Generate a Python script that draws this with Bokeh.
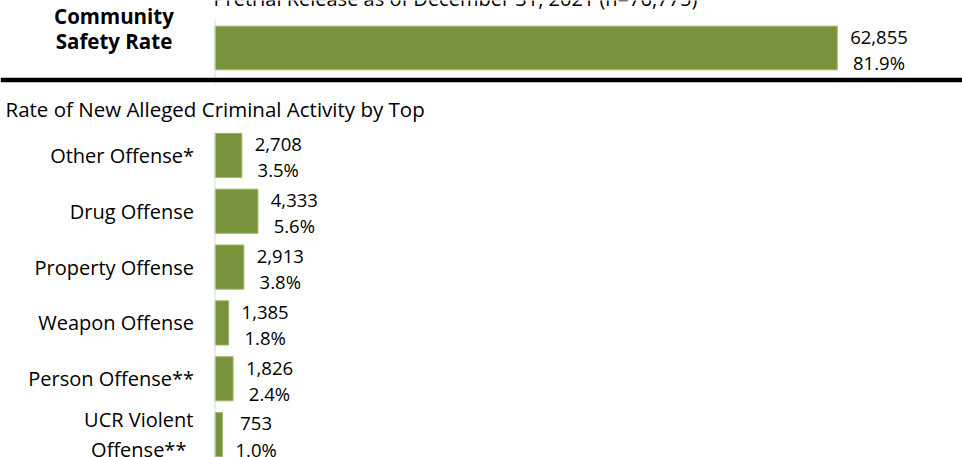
from bokeh.plotting import figure
from bokeh.models import Range1d, FactorRange, Span, ColumnDataSource
from bokeh.layouts import column
from bokeh.embed import file_html
from bokeh.resources import INLINE
from bokeh.core.properties import value

# ---------------- data ----------------
subtitle = "Pretrial Release as of December 31, 2021 (n=76,775)"
top_label_lines = ["Community", "Safety Rate"]
top_category = ["Community Safety Rate"]
top_counts = [62855]
top_pcts = [81.9]

section_title = "Rate of New Alleged Criminal Activity by Top"
offense_categories = ["Other Offense*", "Drug Offense", "Property Offense",
                      "Weapon Offense", "Person Offense**", "UCR Violent\nOffense**"]
offense_counts = [2708, 4333, 2913, 1385, 1826, 753]
offense_pcts = [3.5, 5.6, 3.8, 1.8, 2.4, 1.0]

# ---------------- style / layout ----------------
FONT = "Open Sans"
BAR_FILL = "#77933C"
BAR_LINE = "#9DB66A"
AXIS_GRAY = "#D9D9D9"
VAL_SIZE = 18.5
LAB_SIZE = 20
W = 962
HA = 95          # top section height (px)
HM = 37          # section-title strip height (px)
HB = 325         # lower chart height (px)
ROW_PX = 55      # row pitch of the lower chart
AXIS_PX = 214.5  # pixel position of the value axis
PX_PER_UNIT = 0.0099

# approximate Open Sans advance widths (em)
CHAR_W = {",": 0.245, ".": 0.266, "%": 0.823, " ": 0.26, "*": 0.551,
          "C": 0.632, "O": 0.78, "R": 0.648, "U": 0.753, "V": 0.579,
          "e": 0.561, "f": 0.344, "i": 0.258, "l": 0.258, "n": 0.613,
          "o": 0.601, "s": 0.479, "t": 0.361}


def text_w(s, size):
    return max(sum(CHAR_W.get(c, 0.572) for c in line) for line in s.split("\n")) * size


def x_range():
    return Range1d(-AXIS_PX / PX_PER_UNIT, (W - AXIS_PX) / PX_PER_UNIT)


def value_source(cats, counts, pcts):
    nums = [f"{v:,}" for v in counts]
    pct = [f"{p:.1f}%" for p in pcts]
    off = [13 + max(text_w(a, VAL_SIZE), text_w(b, VAL_SIZE)) / 2 for a, b in zip(nums, pct)]
    return ColumnDataSource(dict(y=cats, x=counts, num=nums, pct=pct, off=off))


def add_values(p, src):
    common = dict(x="x", y="y", x_offset="off", text_align="center", text_baseline="middle",
                  text_font=value(FONT), text_font_size=f"{VAL_SIZE}px", text_color="black", source=src)
    p.text(text="num", y_offset=-10.7, **common)
    p.text(text="pct", y_offset=14.5, **common)


def base_figure(height, y_range, **kw):
    p = figure(width=W, height=height, x_range=x_range(), y_range=y_range,
               output_backend="svg", toolbar_location=None, min_border=0,
               outline_line_color=None, **kw)
    p.axis.visible = False
    p.grid.visible = False
    return p


# ---------------- top section ----------------
top = base_figure(HA, FactorRange(factors=top_category))


def syn(py):  # pixel row inside the top section -> synthetic categorical coordinate
    return (HA - py) / HA


tsrc = value_source(top_category, top_counts, top_pcts)
top.hbar(y="y", left=0, right="x", height=43.6 / HA, fill_color=BAR_FILL,
         line_color=BAR_LINE, line_width=1, source=tsrc)
add_values(top, tsrc)

# value axis line of the top section
top.segment(x0=[0], x1=[0], y0=[syn(83)], y1=[syn(20)], line_color=AXIS_GRAY, line_width=1)

# subtitle (partly cut off at the top edge, as in the reference)
top.text(x=[0], y=top_category, text=[subtitle], x_offset=-1.5, y_offset=-49.4,
         text_align="left", text_baseline="middle", text_font=value(FONT),
         text_font_size="20px", text_color="black")

# bold row heading
hsrc = ColumnDataSource(dict(x=[0, 0], y=top_category * 2, t=top_label_lines, yo=[-31.8, -6.7]))
top.text(x="x", y="y", text="t", x_offset=-101, y_offset="yo", text_align="center",
         text_baseline="middle", text_font=value(FONT), text_font_size="20.5px",
         text_font_style="bold", text_color="black", source=hsrc)

# heavy separator rule
top.add_layout(Span(location=syn(79.5), dimension="width", line_color="black", line_width=4.5))

# ---------------- section title strip ----------------
mid = base_figure(HM, FactorRange(factors=[section_title]))
mid.text(x=[0], y=[section_title], text=[section_title], x_offset=5 - AXIS_PX, y_offset=-5,
         text_align="left", text_baseline="middle", text_font=value(FONT),
         text_font_size="20.5px", text_color="black")

# ---------------- lower chart ----------------
n_rows = len(offense_categories)
bottom = base_figure(HB, FactorRange(factors=list(reversed(offense_categories)),
                                     range_padding=HB / ROW_PX - n_rows,
                                     range_padding_units="absolute"))

bsrc = value_source(offense_categories, offense_counts, offense_pcts)
bottom.hbar(y="y", left=0, right="x", height=0.79, fill_color=BAR_FILL,
            line_color=BAR_LINE, line_width=1, source=bsrc)
add_values(bottom, bsrc)
bottom.add_layout(Span(location=0, dimension="height", line_color=AXIS_GRAY, line_width=1))

# category labels: single-line labels right-aligned, wrapped label centred as a block
single = [c for c in offense_categories if "\n" not in c]
multi = [c for c in offense_categories if "\n" in c]
lab_common = dict(text_baseline="middle", text_font=value(FONT),
                  text_font_size=f"{LAB_SIZE}px", text_color="black")
bottom.text(x=[0] * len(single), y=single, text=single, x_offset=-21,
            text_align="right", **lab_common)
msrc = ColumnDataSource(dict(x=[0] * len(multi), y=multi, t=multi,
                             off=[-(21 + text_w(c, LAB_SIZE) / 2) for c in multi]))
bottom.text(x="x", y="y", text="t", x_offset="off", text_align="center",
            text_line_height=1.1, source=msrc, **lab_common)

layout = column(top, mid, bottom)
open("out.html", "w").write(file_html(layout, INLINE))
